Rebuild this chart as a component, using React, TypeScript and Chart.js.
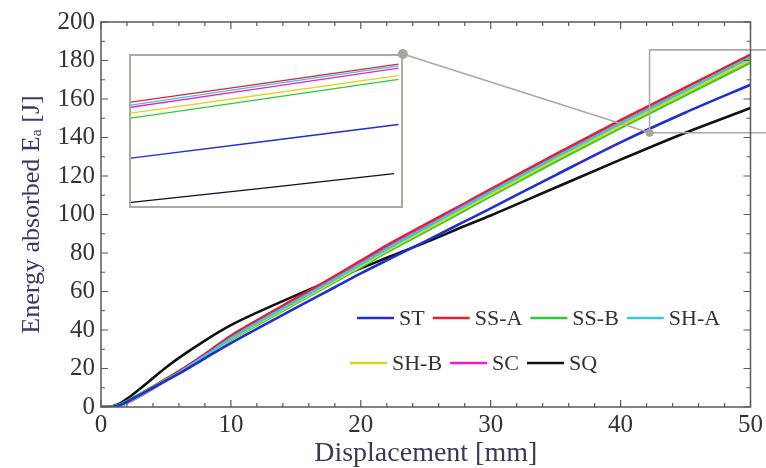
import React, { useEffect, useRef } from "react";
import { Chart, registerables } from "chart.js";
Chart.register(...registerables);

// ---- data ----
const disp = [0, 0.5, 0.8, 1, 1.5, 2, 3, 4, 5, 6, 8, 10, 12, 15, 18, 20, 22, 25, 28, 30, 35, 40, 45, 50];
const energyST = [0, 0, 0, 0.2, 1.1, 2.7, 6.3, 10, 13.7, 17.3, 25.3, 33.2, 40.6, 51.5, 62.2, 69.4, 76.2, 86.2, 96.4, 103.2, 120.5, 137.5, 153, 167.4];
const energySSA = [0, 0, 0, 0.2, 1.2, 2.8, 6.6, 10.6, 14.6, 18.6, 27.5, 37, 45, 56.5, 68, 76, 84, 95, 105.8, 113.2, 131.3, 149, 166, 183];
const energySSB = [0, 0, 0.1, 0.4, 1.4, 3, 6.8, 10.5, 14.2, 17.9, 26.2, 34.8, 42.5, 53.8, 65, 72.6, 80.4, 91.2, 102.2, 109.5, 127.5, 145, 162, 179];
const energySHA = [0, 0, 0, 0, 0.8, 2.4, 6, 10, 13.9, 17.8, 26.6, 35.6, 43.6, 55, 66.4, 74.2, 82.2, 93.2, 104.4, 111.7, 129.8, 147.3, 164.5, 181.8];
const energySHB = [0, 0, 0, 0, 0.8, 2.4, 6, 9.9, 13.7, 17.5, 26.2, 35.2, 43, 54.4, 65.6, 73.3, 81.2, 92.1, 103.2, 110.5, 128.6, 146, 163.2, 180.3];
const energySC = [0, 0, 0, 0, 0.6, 2, 5.6, 9.6, 13.6, 17.6, 26.5, 35.8, 43.8, 55.3, 66.8, 74.6, 82.6, 93.6, 104.8, 112, 130, 147.5, 164.5, 181.6];
const energySQ = [0, 0, 0.2, 0.6, 2, 4.2, 9.5, 15, 20.5, 25.5, 34.5, 42.5, 49, 58, 66.5, 72, 77.5, 85.5, 94, 99.5, 114, 128.5, 142.5, 155.3];

const seriesNames = ["ST", "SS-A", "SS-B", "SH-A", "SH-B", "SC", "SQ"];
const seriesColors = ["#1d2fd2", "#e3202a", "#2fcc2f", "#36c8dc", "#e0d41e", "#ea1fd0", "#111111"];
const seriesValues = [energyST, energySSA, energySSB, energySHA, energySHB, energySC, energySQ];
const drawOrder = [0, 3, 4, 2, 5, 1, 6];

// inset (magnified view) values
const insetDisp = [47, 48.5, 50];
const insetDispSQ = [47, 48.5, 49.95];
const insetST = [156.6, 161.3, 166.0];
const insetSSA = [172.1, 177.4, 182.7];
const insetSSB = [167.7, 173.1, 178.5];
const insetSHA = [171.3, 176.8, 182.2];
const insetSHB = [169.1, 174.3, 179.5];
const insetSC = [170.7, 176.1, 181.6];
const insetSQ = [144.4, 148.4, 152.4];
const insetValues = [insetST, insetSSA, insetSSB, insetSHA, insetSHB, insetSC, insetSQ];

// axis ticks
const xMin = 0, xMax = 50, xMajor = 10, xMinor = 2;
const yMin = 0, yMax = 200, yMajor = 20, yMinor = 10;

// layout of the inset / zoom box in data coordinates
const insetBoxX = [2.17, 23.24];
const insetBoxY = [103.5, 183.4];
const zoomBoxX = 42.23;
const zoomBoxY = [142.5, 185.5];

const W = 766, H = 468;
const SERIF = "'Liberation Serif', 'Times New Roman', serif";
const GRAY = "#aaaaa2";

export default function App() {
  const mainRef = useRef<HTMLCanvasElement | null>(null);
  const insetRef = useRef<HTMLCanvasElement | null>(null);

  useEffect(() => {
    const mc = mainRef.current!, ic = insetRef.current!;

    const framePlugin = {
      id: "frame",
      afterDraw(chart: any) {
        const ctx = chart.ctx;
        const { left, right, top, bottom } = chart.chartArea;
        const xs = chart.scales.x, ys = chart.scales.y;
        ctx.save();
        // zoom rectangle + connector
        ctx.strokeStyle = GRAY;
        ctx.lineWidth = 1.6;
        const zx = xs.getPixelForValue(zoomBoxX);
        const zt = ys.getPixelForValue(zoomBoxY[1]);
        const zb = ys.getPixelForValue(zoomBoxY[0]);
        ctx.beginPath();
        ctx.moveTo(W, zt); ctx.lineTo(zx, zt); ctx.lineTo(zx, zb); ctx.lineTo(W, zb);
        ctx.stroke();
        const ix = xs.getPixelForValue(insetBoxX[1]);
        const iy = ys.getPixelForValue(insetBoxY[1]);
        ctx.beginPath();
        ctx.moveTo(ix, iy); ctx.lineTo(zx, zb);
        ctx.stroke();
        ctx.fillStyle = "#a5a59c";
        ctx.beginPath(); ctx.arc(ix, iy, 5, 0, Math.PI * 2); ctx.fill();
        ctx.beginPath(); ctx.arc(zx, zb, 4, 0, Math.PI * 2); ctx.fill();

        // frame
        ctx.strokeStyle = "#5a5a5a";
        ctx.lineWidth = 1.5;
        ctx.strokeRect(left, top, right - left, bottom - top);
        // ticks (inward, all sides)
        ctx.lineWidth = 1.2;
        ctx.beginPath();
        for (let v = xMin; v <= xMax + 1e-9; v += xMinor) {
          const p = xs.getPixelForValue(v);
          const len = Math.abs(v % xMajor) < 1e-9 ? 7 : 4;
          ctx.moveTo(p, bottom); ctx.lineTo(p, bottom - len);
          ctx.moveTo(p, top); ctx.lineTo(p, top + len);
        }
        for (let v = yMin; v <= yMax + 1e-9; v += yMinor) {
          const p = ys.getPixelForValue(v);
          const len = Math.abs(v % yMajor) < 1e-9 ? 7 : 4;
          ctx.moveTo(left, p); ctx.lineTo(left + len, p);
          ctx.moveTo(right, p); ctx.lineTo(right - len, p);
        }
        ctx.stroke();

        // legend
        ctx.font = `22px ${SERIF}`;
        ctx.textBaseline = "middle";
        ctx.textAlign = "left";
        const rows = [
          { idx: [0, 1, 2, 3], x: 357, y: 318 },
          { idx: [4, 5, 6], x: 350, y: 363 },
        ];
        for (const r of rows) {
          let x = r.x;
          for (const i of r.idx) {
            const ds = chart.data.datasets.find((d: any) => d.label === seriesNames[i]);
            ctx.strokeStyle = ds.borderColor;
            ctx.lineWidth = 2.5;
            ctx.beginPath(); ctx.moveTo(x, r.y); ctx.lineTo(x + 37, r.y); ctx.stroke();
            ctx.fillStyle = "#333333";
            ctx.fillText(ds.label, x + 42, r.y + 1);
            x += 42 + ctx.measureText(ds.label).width + 8;
          }
        }
        ctx.restore();
      },
    };

    const datasets = drawOrder.map((i) => ({
      label: seriesNames[i],
      data: disp.map((d, k) => ({ x: d, y: seriesValues[i][k] })),
      borderColor: seriesColors[i],
      backgroundColor: seriesColors[i],
      borderWidth: 2.6,
      pointRadius: 0,
      cubicInterpolationMode: "monotone" as const,
      fill: false,
    }));

    const main = new Chart(mc, {
      type: "line",
      data: { datasets },
      options: {
        responsive: false,
        animation: false,
        devicePixelRatio: 1,
        events: [],
        layout: { padding: { left: 0, top: 22, right: 13, bottom: 0 } },
        plugins: { legend: { display: false }, tooltip: { enabled: false } },
        scales: {
          x: {
            type: "linear",
            min: xMin,
            max: xMax,
            afterFit: (s: any) => { s.height = 61; },
            grid: { display: false, drawTicks: false },
            border: { display: false },
            ticks: { stepSize: xMajor, padding: 3, color: "#333", font: { family: SERIF, size: 25 }, maxRotation: 0 },
            title: {
              display: true,
              text: "Displacement [mm]",
              color: "#3a3a56",
              font: { family: SERIF, size: 28, lineHeight: 1 },
              padding: { top: 0, bottom: 0 },
            },
          },
          y: {
            type: "linear",
            min: yMin,
            max: yMax,
            afterFit: (s: any) => { s.width = 101; },
            grid: { display: false, drawTicks: false },
            border: { display: false },
            ticks: { stepSize: yMajor, padding: 6, color: "#333", font: { family: SERIF, size: 25 } },
            title: {
              display: true,
              text: "Energy absorbed Eₐ [J]",
              color: "#3c3769",
              font: { family: SERIF, size: 26, lineHeight: 1 },
              padding: { top: 19, bottom: 0 },
            },
          },
        },
      },
      plugins: [framePlugin],
    });

    // inset placement from main chart scales
    const xs: any = main.scales.x, ys: any = main.scales.y;
    const l = xs.getPixelForValue(insetBoxX[0]);
    const r = xs.getPixelForValue(insetBoxX[1]);
    const t = ys.getPixelForValue(insetBoxY[1]);
    const b = ys.getPixelForValue(insetBoxY[0]);
    ic.width = Math.round(r - l);
    ic.height = Math.round(b - t);
    ic.style.left = `${Math.round(l)}px`;
    ic.style.top = `${Math.round(t)}px`;

    const borderPlugin = {
      id: "insetBorder",
      beforeDraw(chart: any) {
        const ctx = chart.ctx;
        ctx.save();
        ctx.fillStyle = "#ffffff";
        ctx.fillRect(0, 0, chart.width, chart.height);
        ctx.restore();
      },
      afterDraw(chart: any) {
        const ctx = chart.ctx;
        ctx.save();
        ctx.strokeStyle = GRAY;
        ctx.lineWidth = 2;
        ctx.strokeRect(1, 1, chart.width - 2, chart.height - 2);
        ctx.restore();
      },
    };

    const inset = new Chart(ic, {
      type: "line",
      data: {
        datasets: drawOrder.map((i) => ({
          label: seriesNames[i],
          data: (i === 6 ? insetDispSQ : insetDisp).map((d, k) => ({ x: d, y: insetValues[i][k] })),
          borderColor: seriesColors[i],
          borderWidth: 1.3,
          pointRadius: 0,
          fill: false,
        })),
      },
      options: {
        responsive: false,
        animation: false,
        devicePixelRatio: 1,
        events: [],
        layout: { padding: 0 },
        plugins: { legend: { display: false }, tooltip: { enabled: false } },
        scales: {
          x: { type: "linear", min: 47, max: 50.05, display: false },
          y: { type: "linear", min: 142.9, max: 185.5, display: false },
        },
      },
      plugins: [borderPlugin],
    });

    return () => { inset.destroy(); main.destroy(); };
  }, []);

  return (
    <div style={{ position: "fixed", left: 0, top: 0, width: W, height: H, background: "#fff" }}>
      <canvas ref={insetRef} style={{ position: "absolute", left: 0, top: 0 }} />
      <canvas ref={mainRef} width={W} height={H} style={{ position: "absolute", left: 0, top: 0, width: W, height: H }} />
    </div>
  );
}
